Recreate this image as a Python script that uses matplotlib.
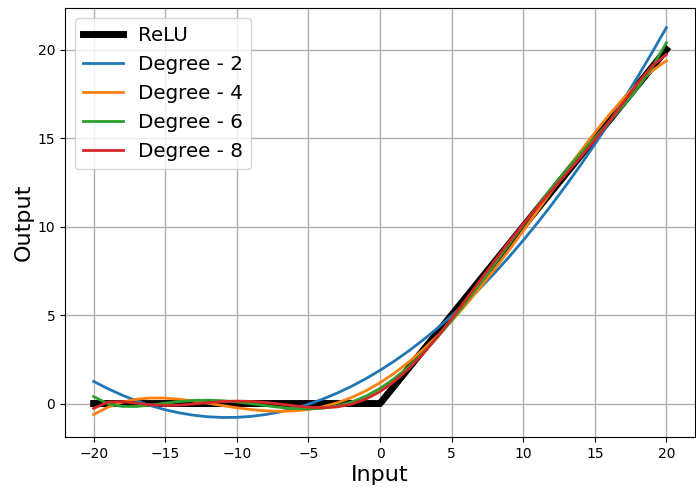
import numpy as np
from matplotlib import pyplot as plt

# input grid
x = [-20, -19, -18, -17, -16, -15, -14, -13, -12, -11, -10, -9, -8, -7, -6, -5, -4, -3, -2, -1,
     0, 1, 2, 3, 4, 5, 6, 7, 8, 9, 10, 11, 12, 13, 14, 15, 16, 17, 18, 19, 20]

relu_x = [-20, 0, 20]
relu_y = [0, 0, 20]

deg2 = [1.25, 0.836, 0.469, 0.148, -0.125, -0.352, -0.531, -0.664, -0.75, -0.789, -0.781,
        -0.727, -0.625, -0.477, -0.281, -0.039, 0.25, 0.586, 0.969, 1.398,
        1.875, 2.398, 2.969, 3.586, 4.25, 4.961, 5.719, 6.523, 7.375, 8.273, 9.219,
        10.211, 11.25, 12.336, 13.469, 14.648, 15.875, 17.148, 18.469, 19.836, 21.25]
deg4 = [-0.625, -0.203, 0.079, 0.243, 0.312, 0.305, 0.241, 0.139, 0.015, -0.116, -0.239,
        -0.342, -0.413, -0.441, -0.418, -0.335, -0.185, 0.037, 0.335, 0.713,
        1.172, 1.713, 2.335, 3.037, 3.815, 4.665, 5.582, 6.559, 7.587, 8.658, 9.761,
        10.884, 12.015, 13.139, 14.241, 15.305, 16.312, 17.243, 18.079, 18.797, 19.375]
deg6 = [0.391, -0.013, -0.166, -0.166, -0.086, 0.020, 0.114, 0.174, 0.190, 0.159, 0.089,
        -0.008, -0.116, -0.215, -0.287, -0.310, -0.267, -0.141, 0.082, 0.412,
        0.854, 1.412, 2.082, 2.859, 3.733, 4.690, 5.713, 6.785, 7.884, 8.992, 10.089,
        11.159, 12.190, 13.174, 14.114, 15.020, 15.914, 16.834, 17.834, 18.987, 20.391]
deg8 = [-0.273, 0.083, 0.106, 0.014, -0.075, -0.112, -0.090, -0.027, 0.049, 0.111, 0.138,
        0.121, 0.061, -0.029, -0.128, -0.209, -0.241, -0.193, -0.037, 0.247,
        0.673, 1.247, 1.963, 2.807, 3.759, 4.791, 5.872, 6.971, 8.061, 9.121, 10.138,
        11.111, 12.049, 12.973, 13.910, 14.888, 15.925, 17.014, 18.106, 19.083, 19.727]

series = [('Degree - 2', deg2, 'tab:blue'),
          ('Degree - 4', deg4, 'tab:orange'),
          ('Degree - 6', deg6, 'tab:green'),
          ('Degree - 8', deg8, 'tab:red')]

fig, ax = plt.subplots(figsize=(6.96, 4.87), dpi=100)
fig.subplots_adjust(left=0.0934, right=0.9986, top=0.9836, bottom=0.1027)

ax.plot(relu_x, relu_y, color='black', lw=5, label='ReLU')
for name, vals, col in series:
    ax.plot(x, vals, color=col, lw=2, label=name)

ax.set_xticks(np.arange(-20, 21, 5))
ax.set_yticks(np.arange(0, 21, 5))
ax.set_xlabel('Input', fontsize=16, labelpad=3)
ax.set_ylabel('Output', fontsize=16, labelpad=3)
ax.grid(True, color='#b0b0b0', lw=1)
ax.legend(loc='upper left', fontsize=14.3)

plt.savefig('out.png', dpi=100)
